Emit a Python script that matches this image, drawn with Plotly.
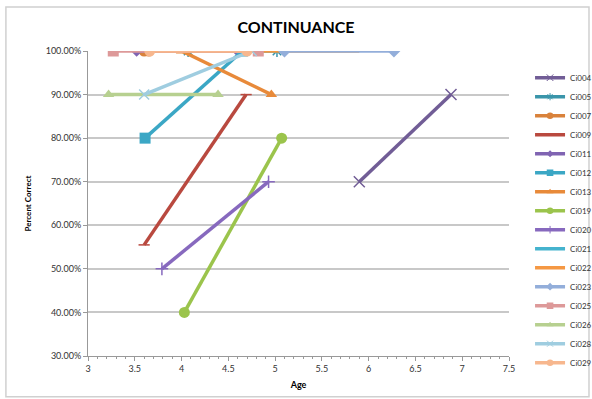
import plotly.graph_objects as go

# Age (x) and percent correct (y) per child
names = ["Ci004", "Ci005", "Ci007", "Ci009", "Ci011", "Ci012", "Ci013", "Ci019",
         "Ci020", "Ci021", "Ci022", "Ci023", "Ci025", "Ci026", "Ci028", "Ci029"]

ci004_age = [5.9, 6.88];   ci004_pct = [0.70, 0.90]
ci005_age = [4.07, 5.02];  ci005_pct = [1.00, 1.00]
ci007_age = [3.6, 3.65];   ci007_pct = [1.00, 1.00]
ci009_age = [3.6, 4.69];   ci009_pct = [0.555, 0.90]
ci011_age = [3.52, 4.6];   ci011_pct = [1.00, 1.00]
ci012_age = [3.61, 4.65];  ci012_pct = [0.80, 1.00]
ci013_age = [4.0, 4.96];   ci013_pct = [1.00, 0.90]
ci019_age = [4.03, 5.07];  ci019_pct = [0.40, 0.80]
ci020_age = [3.79, 4.93];  ci020_pct = [0.50, 0.70]
ci021_age = [4.62, 5.0];   ci021_pct = [1.00, 1.00]
ci022_age = [3.62, 5.9];   ci022_pct = [1.00, 1.00]
ci023_age = [5.1, 6.27];   ci023_pct = [1.00, 1.00]
ci025_age = [3.27, 4.82];  ci025_pct = [1.00, 1.00]
ci026_age = [3.22, 4.39];  ci026_pct = [0.90, 0.90]
ci028_age = [3.6, 4.75];   ci028_pct = [0.90, 1.00]
ci029_age = [3.66, 4.7];   ci029_pct = [1.00, 1.00]

ages = [ci004_age, ci005_age, ci007_age, ci009_age, ci011_age, ci012_age, ci013_age,
        ci019_age, ci020_age, ci021_age, ci022_age, ci023_age, ci025_age, ci026_age,
        ci028_age, ci029_age]
pcts = [ci004_pct, ci005_pct, ci007_pct, ci009_pct, ci011_pct, ci012_pct, ci013_pct,
        ci019_pct, ci020_pct, ci021_pct, ci022_pct, ci023_pct, ci025_pct, ci026_pct,
        ci028_pct, ci029_pct]

colors = ["#715D96", "#3A95AA", "#D9823B", "#B9493F", "#8064B2", "#3BA7C5", "#E88A3A",
          "#9BC44C", "#8769BE", "#45B3CE", "#F59843", "#93AEDA", "#DD9999", "#B7D090",
          "#9FCDE0", "#F7B78E"]
symbols = ["x-thin", "asterisk", "circle", "line-ew", "diamond", "square", "triangle-up",
           "circle", "cross-thin", "circle", "circle", "diamond", "square", "triangle-up",
           "x-thin", "circle"]
msizes = [11, 10, 11, 8, 9, 11, 10, 11, 9, 0, 0, 10, 11, 10, 10, 11]

fig = go.Figure()
for n, x, y, c, s, ms in zip(names, ages, pcts, colors, symbols, msizes):
    open_sym = s in ("x-thin", "asterisk", "line-ew", "cross-thin")
    mode = "lines+markers" if ms else "lines"
    fig.add_trace(go.Scatter(
        x=x, y=y, name=n, mode=mode, legendgroup=n, showlegend=False,
        line=dict(color=c, width=3.5),
        marker=dict(symbol=s, size=ms, color=c,
                    line=dict(color=c, width=1.5 if open_sym else 0)),
    ))
    # compact legend swatch with smaller marker
    fig.add_trace(go.Scatter(
        x=[None], y=[None], name=n, mode=mode, legendgroup=n, showlegend=True,
        line=dict(color=c, width=3.5),
        marker=dict(symbol=s, size=max(ms * 0.6, 1), color=c,
                    line=dict(color=c, width=1 if open_sym else 0)),
    ))

fig.update_layout(
    width=592, height=399,
    margin=dict(l=88, r=83, t=51, b=43, autoexpand=False),
    paper_bgcolor="white", plot_bgcolor="white",
    font=dict(family="Lato, Open Sans, sans-serif", size=9, color="#333333"),
    title=dict(text="<b>CONTINUANCE</b>", x=0.5, xanchor="center", y=0.932, yanchor="middle",
               font=dict(family="Lato, Open Sans, sans-serif", size=16, color="#000000")),
    xaxis=dict(range=[3, 7.5], dtick=0.5, tick0=3, showgrid=False, zeroline=False,
               showline=True, linecolor="#999999", linewidth=1.2,
               ticks="outside", ticklen=4, tickcolor="#999999",
               minor=dict(dtick=0.1, ticks="outside", ticklen=2, tickcolor="#999999"),
               tickfont=dict(size=9, color="#333333"),
               title=dict(text="<b>Age</b>", font=dict(size=9, color="#000000"), standoff=8)),
    yaxis=dict(range=[0.3, 1.0], dtick=0.1, tickformat=".2%", showgrid=True,
               gridcolor="#C8C8C8", gridwidth=1.5, zeroline=False,
               showline=True, linecolor="#999999", linewidth=1.2,
               ticks="outside", ticklen=4, tickcolor="#999999",
               tickfont=dict(size=9, color="#333333"),
               title=dict(text="<b>Percent Correct</b>", font=dict(size=8, color="#000000"),
                          standoff=12)),
    legend=dict(x=1.05, y=0.96, xanchor="left", yanchor="top",
                font=dict(size=8, color="#333333"), itemwidth=30,
                tracegroupgap=0, bgcolor="rgba(0,0,0,0)"),
    showlegend=True,
    shapes=[dict(type="rect", xref="paper", yref="paper",
                 x0=-0.195, x1=1.19, y0=-0.134, y1=1.144,
                 line=dict(color="#D0D0D0", width=1.5), layer="below")],
)

fig.write_html("out.html")
